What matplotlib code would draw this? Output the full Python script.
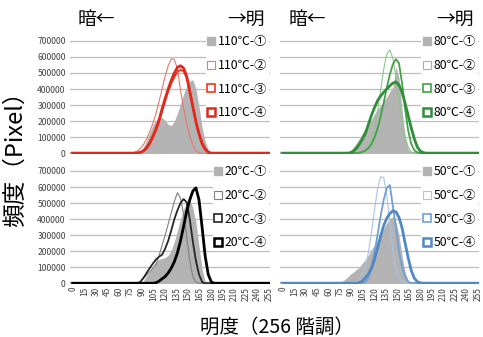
# BLOCK: Import modules
from matplotlib import pyplot as plt
from matplotlib.lines import Line2D
import numpy as np

plt.rcParams['font.family'] = ['Noto Sans CJK JP', 'DejaVu Sans']

# BLOCK: Data (pixel counts in thousands)
levels = [68, 72, 76, 80, 84, 88, 92, 96, 100, 104, 108, 112, 116, 120, 124, 128,
          132, 136, 140, 144, 148, 152, 156, 160, 164, 168, 172, 176, 180, 184, 188, 192]
x_ticks = list(range(0, 256, 15))
y_ticks = [0, 100000, 200000, 300000, 400000, 500000, 600000, 700000]

t110_1 = [0, 0, 0, 0, 2, 12, 40, 80, 130, 175, 205, 222, 222, 205, 180, 172,
          200, 250, 310, 370, 415, 450, 458, 400, 290, 160, 75, 22, 3, 0, 0, 0]
t110_2 = [0, 0, 2, 6, 15, 30, 55, 90, 135, 185, 245, 320, 400, 480, 545, 588,
          585, 525, 390, 280, 185, 110, 50, 15, 3, 0, 0, 0, 0, 0, 0, 0]
t110_3 = [0, 0, 0, 0, 1, 4, 12, 30, 58, 95, 140, 195, 262, 325, 385, 435,
          475, 505, 520, 510, 470, 390, 295, 200, 125, 65, 28, 8, 0, 0, 0, 0]
t110_4 = [0, 0, 0, 0, 2, 6, 15, 35, 65, 105, 150, 205, 275, 340, 400, 455,
          500, 535, 545, 530, 480, 385, 290, 195, 120, 60, 25, 6, 0, 0, 0, 0]

t80_1 = [0, 0, 0, 0, 2, 15, 35, 60, 90, 125, 155, 180, 210, 245, 275, 300,
         325, 350, 385, 410, 540, 470, 270, 100, 25, 0, 0, 0, 0, 0, 0, 0]
t80_2 = [0, 0, 0, 0, 0, 0, 0, 0, 2, 6, 16, 38, 81, 155, 263, 395,
         524, 617, 644, 591, 475, 335, 206, 100, 40, 8, 0, 0, 0, 0, 0, 0]
t80_3 = [0, 0, 0, 0, 0, 0, 0, 1, 3, 8, 17, 32, 58, 98, 155, 229,
         315, 407, 491, 555, 586, 560, 437, 276, 141, 58, 19, 5, 0, 0, 0, 0]
t80_4 = [0, 0, 0, 0, 0, 3, 10, 30, 55, 88, 123, 180, 237, 285, 328, 357,
         380, 400, 420, 437, 444, 425, 380, 310, 235, 158, 90, 38, 13, 3, 0, 0]

t20_1 = [0, 0, 0, 0, 0, 0, 15, 45, 72, 105, 135, 150, 155, 160, 175, 205,
         260, 330, 400, 460, 505, 520, 470, 380, 230, 90, 10, 0, 0, 0, 0, 0]
t20_2 = [0, 0, 0, 0, 2, 12, 30, 50, 72, 95, 118, 170, 235, 300, 370, 440,
         510, 565, 530, 430, 290, 140, 40, 8, 0, 0, 0, 0, 0, 0, 0, 0]
t20_3 = [0, 0, 0, 0, 0, 10, 35, 65, 95, 122, 148, 165, 178, 215, 265, 330,
         400, 455, 500, 525, 505, 400, 260, 140, 55, 8, 0, 0, 0, 0, 0, 0]
t20_4 = [0, 0, 0, 0, 0, 0, 0, 0, 0, 0, 3, 13, 28, 42, 65, 95,
         135, 190, 265, 355, 450, 520, 575, 595, 520, 350, 170, 55, 8, 0, 0, 0]

t50_1 = [0, 2, 8, 20, 35, 55, 68, 85, 100, 125, 148, 175, 210, 240, 270, 300,
         340, 375, 405, 415, 380, 300, 170, 70, 15, 0, 0, 0, 0, 0, 0, 0]
t50_2 = [0, 0, 0, 0, 0, 0, 2, 8, 30, 60, 103, 192, 317, 460, 589, 665,
         659, 549, 384, 200, 95, 40, 12, 0, 0, 0, 0, 0, 0, 0, 0, 0]
t50_3 = [0, 0, 0, 0, 0, 0, 0, 0, 0, 0, 8, 35, 95, 190, 305, 420,
         520, 595, 612, 480, 350, 200, 100, 41, 10, 0, 0, 0, 0, 0, 0, 0]
t50_4 = [0, 0, 0, 0, 0, 0, 0, 0, 5, 13, 35, 58, 95, 150, 220, 295,
         360, 405, 435, 452, 445, 410, 345, 250, 160, 80, 32, 10, 2, 0, 0, 0]

GRAY = "#b3b3b3"
marks = ["①", "②", "③", "④"]
widths = [0.8, 1.3, 2.0]

# name, series, colours for 2..4, axes rect, left column?, top row?
panels = [
  ("110℃", [t110_1, t110_2, t110_3, t110_4], ["#e8786a", "#e53a24", "#e2281a"],
   [0.145, 0.543, 0.414, 0.338], True, True),
  ("80℃", [t80_1, t80_2, t80_3, t80_4], ["#8cc68c", "#45a04a", "#2f8f38"],
   [0.580, 0.543, 0.411, 0.338], False, True),
  ("20℃", [t20_1, t20_2, t20_3, t20_4], ["#808080", "#262626", "#000000"],
   [0.145, 0.157, 0.414, 0.338], True, False),
  ("50℃", [t50_1, t50_2, t50_3, t50_4], ["#a9c3e3", "#6f9fd3", "#5088c6"],
   [0.580, 0.157, 0.411, 0.338], False, False),
]

# BLOCK: Draw
fig = plt.figure(figsize=(4.83, 3.37), dpi=100)
x = [0] + levels + [255]

for name, series, colors, rect, left_col, top_row in panels:
  ax = fig.add_axes(rect)
  ys = [np.array([0] + s + [0]) * 1000 for s in series]

  ax.fill_between(x, ys[0], color=GRAY, lw=0, zorder=2)
  for y, c, lw in zip(ys[1:], colors, widths):
    ax.plot(x, y, color=c, lw=lw, zorder=3, solid_joinstyle='round')

  ax.set_xlim(-3.5, 256.2)
  ax.set_ylim(-5000, 705000)
  ax.set_xticks(x_ticks)
  ax.set_yticks(y_ticks)
  ax.grid(axis='y', color='#bdbdbd', lw=0.9, zorder=0)
  ax.axhline(0, color='#a0a0a0', lw=2.4, zorder=1)
  for sp in ax.spines.values():
    sp.set_visible(False)
  ax.tick_params(length=0, labelsize=6.2, colors='#404040', pad=3)
  ax.tick_params(axis='x', labelrotation=90, pad=2, labelsize=6)
  if not left_col:
    ax.tick_params(labelleft=False)
  if top_row:
    ax.tick_params(labelbottom=False)
    ax.text(0.04, 1.18, "暗←", transform=ax.transAxes, ha='left', va='center', fontsize=13.5)
    ax.text(0.975, 1.18, "→明", transform=ax.transAxes, ha='right', va='center', fontsize=13.5)

  handles = [Line2D([], [], marker='s', ls='none', ms=5.5, mfc=GRAY, mec=GRAY)]
  for c, mew in zip(colors, [0.8, 1.2, 1.8]):
    handles.append(Line2D([], [], marker='s', ls='none', ms=5.5, mfc='white', mec=c, mew=mew))
  labels = [f"{name}-{m}" for m in marks]
  leg = ax.legend(handles, labels, loc='upper right', bbox_to_anchor=(0.995, 1.06),
                  fontsize=8.8, labelspacing=0.88, handlelength=0.6, handletextpad=0.25,
                  borderpad=0.15, borderaxespad=0, frameon=True, fancybox=False,
                  edgecolor='none', facecolor='white', framealpha=1)
  leg.set_zorder(5)

fig.text(0.031, 0.546, "頻度（Pixel）", rotation=90, ha='center', va='center', fontsize=17)
fig.text(0.574, 0.03, "明度（256 階調）", ha='center', va='center', fontsize=14)

fig.savefig("out.png", dpi=100)
